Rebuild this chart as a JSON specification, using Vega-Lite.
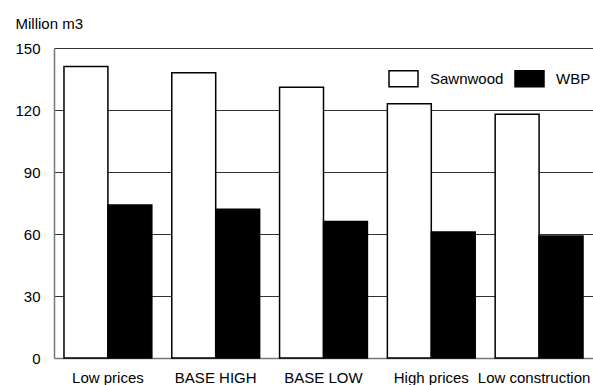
{
  "$schema": "https://vega.github.io/schema/vega-lite/v6.json",
  "width": 539,
  "height": 310,
  "autosize": {"type": "none"},
  "padding": {"left": 54, "top": 48, "right": 0, "bottom": 27},
  "background": "white",
  "config": {
    "view": {"stroke": null},
    "font": "Liberation Sans",
    "axis": {"labelFont": "Liberation Sans", "titleFont": "Liberation Sans", "labelColor": "black", "titleColor": "black"},
    "legend": {"labelFont": "Liberation Sans"}
  },
  "data": {
    "values": [
      {"scenario": "Low prices", "product": "Sawnwood", "value": 141},
      {"scenario": "Low prices", "product": "WBP", "value": 74},
      {"scenario": "BASE HIGH", "product": "Sawnwood", "value": 138},
      {"scenario": "BASE HIGH", "product": "WBP", "value": 72},
      {"scenario": "BASE LOW", "product": "Sawnwood", "value": 131},
      {"scenario": "BASE LOW", "product": "WBP", "value": 66},
      {"scenario": "High prices", "product": "Sawnwood", "value": 123},
      {"scenario": "High prices", "product": "WBP", "value": 61},
      {"scenario": "Low construction", "product": "Sawnwood", "value": 118},
      {"scenario": "Low construction", "product": "WBP", "value": 59}
    ]
  },
  "mark": {"type": "bar", "stroke": "black", "strokeWidth": 1.5},
  "encoding": {
    "x": {
      "field": "scenario",
      "type": "nominal",
      "sort": null,
      "scale": {"paddingInner": 0.185, "paddingOuter": 0.0926},
      "axis": {
        "title": null,
        "labelAngle": 0,
        "labelFontSize": 15,
        "labelPadding": 12,
        "labelOffset": {"condition": {"test": "datum.value === 'Low construction'", "value": -5}, "value": 0},
        "ticks": false,
        "domainColor": "#777777",
        "domainWidth": 1.5
      }
    },
    "xOffset": {"field": "product", "type": "nominal", "scale": {"paddingInner": 0, "paddingOuter": 0}},
    "y": {
      "field": "value",
      "type": "quantitative",
      "scale": {"domain": [0, 150], "nice": false},
      "axis": {
        "values": [0, 30, 60, 90, 120, 150],
        "title": "Million m3",
        "titleAngle": 0,
        "titleAlign": "left",
        "titleBaseline": "alphabetic",
        "titleX": -39,
        "titleY": -20,
        "titleFontSize": 15,
        "titleFontWeight": "normal",
        "labelFontSize": 15,
        "labelPadding": 14,
        "ticks": false,
        "domainColor": "#777777",
        "domainWidth": 1.5,
        "grid": true,
        "gridColor": "#333333",
        "gridWidth": 1.2
      }
    },
    "fill": {
      "field": "product",
      "type": "nominal",
      "scale": {"domain": ["Sawnwood", "WBP"], "range": ["white", "black"]},
      "legend": {
        "title": null,
        "orient": "none",
        "direction": "horizontal",
        "legendX": 334,
        "legendY": 15,
        "padding": 0,
        "symbolType": "M-1,-0.55H1V0.55H-1Z",
        "symbolSize": 841,
        "symbolStrokeColor": "black",
        "symbolStrokeWidth": 1.5,
        "symbolOpacity": 1,
        "labelFontSize": 15,
        "labelColor": "black",
        "labelOffset": 11,
        "columnPadding": 8
      }
    }
  }
}
